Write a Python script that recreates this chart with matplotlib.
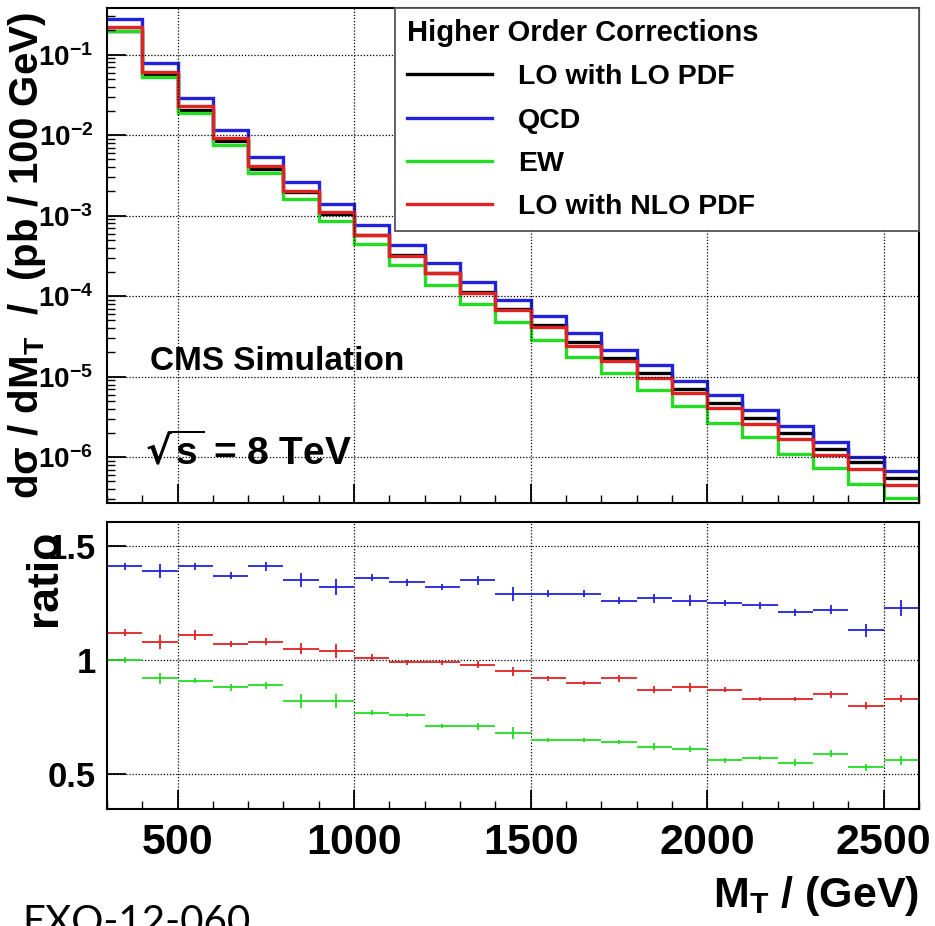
import numpy as np
import matplotlib
matplotlib.use('Agg')
import matplotlib.pyplot as plt
from matplotlib.ticker import MultipleLocator, LogLocator, NullFormatter, FuncFormatter, FixedLocator

plt.rcParams['font.family'] = ['Liberation Sans', 'DejaVu Sans']
plt.rcParams['font.weight'] = 'bold'
plt.rcParams['axes.labelweight'] = 'bold'
plt.rcParams['mathtext.default'] = 'regular'

# bins of 100 GeV in M_T
edges = np.arange(300, 2700, 100)
centers = (edges[:-1] + edges[1:]) / 2

# d sigma / dM_T (pb / 100 GeV)
lo_lo_pdf = [0.195, 0.057, 0.0205, 0.0085, 0.0038, 0.00195, 0.00106, 5.7e-4, 3.23e-4, 1.96e-4,
             1.12e-4, 7.0e-5, 4.45e-5, 2.7e-5, 1.72e-5, 1.1e-5, 7.1e-6, 4.7e-6, 3.1e-6, 2.0e-6,
             1.26e-6, 8.8e-7, 5.5e-7]
qcd = [0.275, 0.0792, 0.0289, 0.01165, 0.00536, 0.00263, 0.0014, 7.75e-4, 4.33e-4, 2.59e-4,
       1.51e-4, 9.03e-5, 5.74e-5, 3.48e-5, 2.17e-5, 1.40e-5, 8.95e-6, 5.88e-6, 3.84e-6, 2.42e-6,
       1.54e-6, 9.94e-7, 6.77e-7]
ew = [0.195, 0.0524, 0.01866, 0.00748, 0.00338, 0.0016, 8.7e-4, 4.39e-4, 2.45e-4, 1.39e-4,
      7.95e-5, 4.76e-5, 2.89e-5, 1.76e-5, 1.10e-5, 6.82e-6, 4.33e-6, 2.63e-6, 1.77e-6, 1.1e-6,
      7.43e-7, 4.66e-7, 3.08e-7]
lo_nlo_pdf = [0.218, 0.0616, 0.02276, 0.0091, 0.0041, 0.00205, 0.0011, 5.76e-4, 3.2e-4, 1.94e-4,
              1.1e-4, 6.65e-5, 4.09e-5, 2.43e-5, 1.58e-5, 9.57e-6, 6.25e-6, 4.09e-6, 2.57e-6, 1.66e-6,
              1.07e-6, 7.04e-7, 4.57e-7]

# ratios to LO with LO PDF
r_qcd = [1.41, 1.39, 1.41, 1.37, 1.41, 1.35, 1.32, 1.36, 1.34, 1.32, 1.35, 1.29, 1.29, 1.29,
         1.26, 1.27, 1.26, 1.25, 1.24, 1.21, 1.22, 1.13, 1.23]
e_qcd = [0.015, 0.03, 0.015, 0.015, 0.02, 0.03, 0.035, 0.015, 0.015, 0.015, 0.02, 0.03, 0.015,
         0.015, 0.015, 0.02, 0.025, 0.015, 0.015, 0.015, 0.02, 0.03, 0.035]
r_nlo = [1.12, 1.08, 1.11, 1.07, 1.08, 1.05, 1.04, 1.01, 0.99, 0.99, 0.98, 0.95, 0.92, 0.90,
         0.92, 0.87, 0.88, 0.87, 0.83, 0.83, 0.85, 0.80, 0.83]
e_nlo = [0.015, 0.03, 0.02, 0.015, 0.015, 0.025, 0.03, 0.015, 0.01, 0.01, 0.015, 0.02, 0.01,
         0.01, 0.015, 0.015, 0.02, 0.01, 0.01, 0.01, 0.015, 0.015, 0.015]
r_ew = [1.00, 0.92, 0.91, 0.88, 0.89, 0.82, 0.82, 0.77, 0.76, 0.71, 0.71, 0.68, 0.65, 0.65,
        0.64, 0.62, 0.61, 0.56, 0.57, 0.55, 0.59, 0.53, 0.56]
e_ew = [0.015, 0.025, 0.01, 0.015, 0.015, 0.03, 0.03, 0.01, 0.01, 0.01, 0.015, 0.025, 0.01,
        0.01, 0.01, 0.015, 0.015, 0.01, 0.01, 0.015, 0.015, 0.015, 0.02]

blue = '#2222dd'
green = '#22dd22'
red = '#e02222'

fig = plt.figure(figsize=(9.35, 9.26), dpi=100)
ax1 = fig.add_axes([0.1144, 0.4568, 0.8685, 0.5346])
ax2 = fig.add_axes([0.1144, 0.1263, 0.8685, 0.31])

# top panel: cross sections
ax1.stairs(lo_lo_pdf, edges, baseline=None, color='black', lw=2.4, label='LO with LO PDF')
ax1.stairs(qcd, edges, baseline=None, color=blue, lw=2.4, label='QCD')
ax1.stairs(ew, edges, baseline=None, color=green, lw=2.4, label='EW')
ax1.stairs(lo_nlo_pdf, edges, baseline=None, color=red, lw=2.4, label='LO with NLO PDF')

ax1.set_yscale('log')
ax1.set_xlim(300, 2600)
ax1.set_ylim(2.7e-7, 0.38)
ax1.yaxis.set_major_locator(LogLocator(base=10, numticks=20))
ax1.yaxis.set_minor_locator(LogLocator(base=10, subs=np.arange(2, 10), numticks=20))
ax1.yaxis.set_minor_formatter(NullFormatter())
ax1.yaxis.set_major_formatter(FuncFormatter(lambda v, p: r'10$^{%d}$' % round(np.log10(v))))
ax1.xaxis.set_major_locator(MultipleLocator(500))
ax1.xaxis.set_minor_locator(MultipleLocator(100))
ax1.tick_params(which='major', direction='in', length=14, width=1.3, labelsize=20, pad=10)
ax1.tick_params(which='minor', direction='in', length=6, width=1.0)
ax1.tick_params(axis='x', labelbottom=False)
ax1.grid(True, which='major', ls=(0, (1, 1.5)), color='black', lw=0.9)
for s in ax1.spines.values():
    s.set_linewidth(1.5)

ax1.set_ylabel('d\u03c3 / dM$_T$  /  (pb / 100 GeV)', fontsize=29)
ax1.yaxis.set_label_coords(-0.072, 0.5)

ax1.text(0.053, 0.269, 'CMS Simulation', fontsize=24, transform=ax1.transAxes, va='baseline')
ax1.text(0.047, 0.077, r'$\sqrt{s}$ = 8 TeV', fontsize=28, transform=ax1.transAxes, va='baseline')

leg = ax1.legend(loc='upper left', bbox_to_anchor=(0.355, 0.547, 0.645, 0.453), mode='expand',
                 title='Higher Order Corrections', alignment='left', fontsize=20.5,
                 title_fontproperties={'weight': 'bold', 'size': 21},
                 frameon=True, fancybox=False, edgecolor='#555555', framealpha=1,
                 handlelength=3.0, handletextpad=0.9, labelspacing=0.6, borderpad=0.4,
                 borderaxespad=0)
leg.get_frame().set_linewidth(1.3)

# bottom panel: ratios
ax2.errorbar(centers, r_qcd, xerr=50, yerr=e_qcd, fmt='none', ecolor=blue, elinewidth=1.3)
ax2.errorbar(centers, r_nlo, xerr=50, yerr=e_nlo, fmt='none', ecolor=red, elinewidth=1.3)
ax2.errorbar(centers, r_ew, xerr=50, yerr=e_ew, fmt='none', ecolor=green, elinewidth=1.3)
ax2.set_xlim(300, 2600)
ax2.set_ylim(0.347, 1.605)
ax2.yaxis.set_major_locator(FixedLocator([0.5, 1.0, 1.5]))
ax2.set_yticklabels(['0.5', '1', '1.5'])
ax2.xaxis.set_major_locator(MultipleLocator(500))
ax2.xaxis.set_minor_locator(MultipleLocator(100))
ax2.tick_params(which='major', direction='in', length=14, width=1.3, pad=8)
ax2.tick_params(axis='y', labelsize=25)
ax2.tick_params(axis='x', labelsize=31, pad=10)
ax2.tick_params(which='minor', direction='in', length=6, width=1.0)
ax2.grid(True, which='major', ls=(0, (1, 1.5)), color='black', lw=0.9)
for s in ax2.spines.values():
    s.set_linewidth(1.5)

ax2.set_ylabel('ratio', fontsize=32)
ax2.yaxis.set_label_coords(-0.052, 0.805)
ax2.set_xlabel('M$_T$ / (GeV)', fontsize=31, loc='right', labelpad=8)

fig.text(0.0235, -0.0086, 'EXO-12-060', fontsize=29, family='Lato', weight='normal', va='baseline')

fig.savefig('out.png', dpi=100)
